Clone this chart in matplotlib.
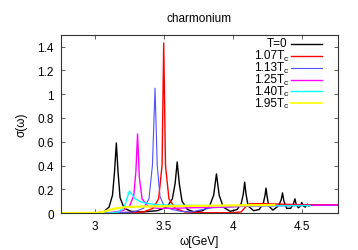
import matplotlib
matplotlib.use("Agg")
import matplotlib.pyplot as plt

plt.rcParams['font.family'] = ['Liberation Sans', 'DejaVu Sans']

# spectral functions
x_t0 = [2.75, 3.00, 3.06, 3.10, 3.125, 3.14, 3.153, 3.165, 3.18, 3.21, 3.26, 3.35, 3.45,
        3.52, 3.56, 3.58, 3.595, 3.61, 3.63, 3.67, 3.72, 3.78, 3.83, 3.86, 3.88, 3.90,
        3.93, 3.98, 4.03, 4.06, 4.075, 4.085, 4.095, 4.11, 4.15, 4.19, 4.22, 4.233, 4.24,
        4.248, 4.26, 4.29, 4.33, 4.35, 4.36, 4.37, 4.39, 4.42, 4.44, 4.45, 4.46, 4.475,
        4.49, 4.50, 4.51, 4.525, 4.54, 4.55, 4.57, 4.60]
y_t0 = [0.0, 0.0, 0.01, 0.05, 0.15, 0.35, 0.59, 0.35, 0.13, 0.04, 0.015, 0.01, 0.02,
        0.05, 0.12, 0.25, 0.43, 0.25, 0.10, 0.03, 0.01, 0.02, 0.06, 0.15, 0.33, 0.15,
        0.05, 0.015, 0.03, 0.08, 0.16, 0.26, 0.16, 0.06, 0.02, 0.03, 0.08, 0.15, 0.21,
        0.14, 0.06, 0.025, 0.06, 0.11, 0.17, 0.10, 0.04, 0.04, 0.08, 0.12, 0.07, 0.045,
        0.06, 0.09, 0.06, 0.05, 0.075, 0.06, 0.07, 0.066]

x_107 = [2.75, 3.20, 3.35, 3.42, 3.46, 3.485, 3.497, 3.51, 3.535, 3.58, 3.65, 3.80, 4.00,
         4.06, 4.09, 4.12, 4.20, 4.35, 4.50, 4.76]
y_107 = [0.0, 0.003, 0.01, 0.04, 0.12, 0.40, 1.43, 0.40, 0.12, 0.04, 0.01, 0.003, 0.003,
         0.01, 0.05, 0.078, 0.08, 0.075, 0.07, 0.07]

x_113 = [2.75, 3.15, 3.28, 3.35, 3.39, 3.415, 3.434, 3.45, 3.47, 3.50, 3.56, 3.62, 3.70,
         3.78, 3.85, 3.95, 4.05, 4.20, 4.40, 4.76]
y_113 = [0.0, 0.003, 0.01, 0.04, 0.12, 0.40, 1.05, 0.40, 0.14, 0.06, 0.03, 0.015, 0.01,
         0.03, 0.045, 0.05, 0.055, 0.06, 0.063, 0.065]

x_125 = [2.75, 3.10, 3.20, 3.25, 3.28, 3.295, 3.307, 3.32, 3.34, 3.38, 3.45, 3.55, 3.70,
         3.90, 4.10, 4.30, 4.50, 4.76]
y_125 = [0.0, 0.003, 0.02, 0.06, 0.15, 0.35, 0.665, 0.30, 0.12, 0.06, 0.04, 0.04, 0.045,
         0.05, 0.058, 0.062, 0.065, 0.068]

x_140 = [2.75, 3.10, 3.17, 3.21, 3.235, 3.248, 3.265, 3.29, 3.33, 3.38, 3.45, 3.60, 4.00,
         4.30, 4.56]
y_140 = [0.0, 0.0, 0.01, 0.05, 0.14, 0.185, 0.16, 0.12, 0.095, 0.08, 0.07, 0.065, 0.063,
         0.062, 0.063]

x_195 = [2.75, 3.00, 3.05, 3.10, 3.15, 3.20, 3.30, 3.50, 3.80, 4.10, 4.30]
y_195 = [0.0, 0.002, 0.008, 0.025, 0.04, 0.048, 0.054, 0.058, 0.062, 0.066, 0.068]

# key labels: main part and subscript
label_main = ['T=0', '1.07T', '1.13T', '1.25T', '1.40T', '1.95T']
label_sub = ['', 'c', 'c', 'c', 'c', 'c']
colors = ['black', 'red', '#5050ff', 'magenta', 'cyan', 'yellow']
widths = [1.0, 1.0, 0.8, 1.0, 1.0, 1.6]

xticks = [3, 3.5, 4, 4.5]
xtick_labels = ['3', '3.5', '4', '4.5']
yticks = [0, 0.2, 0.4, 0.6, 0.8, 1, 1.2, 1.4]
ytick_labels = ['0', '0.2', '0.4', '0.6', '0.8', '1', '1.2', '1.4']

fs = 8.5
fig = plt.figure(figsize=(3.58, 2.51), dpi=100)
ax = fig.add_axes([0.170, 0.147, 0.773, 0.711])

series = [(x_t0, y_t0), (x_107, y_107), (x_113, y_113), (x_125, y_125),
          (x_140, y_140), (x_195, y_195)]
for (xs, ys), c, lw in zip(series, colors, widths):
    ax.plot(xs, ys, color=c, lw=lw)

ax.set_xlim(2.75, 4.76)
ax.set_ylim(0, 1.5)
ax.set_xticks(xticks)
ax.set_xticklabels(xtick_labels)
ax.set_yticks(yticks)
ax.set_yticklabels(ytick_labels)
ax.tick_params(direction='in', length=3, width=0.6, labelsize=fs, top=True, right=True,
               color='#444444', pad=5)
for s in ax.spines.values():
    s.set_linewidth(0.8)
    s.set_color('#333333')

ax.set_title('charmonium', fontsize=fs, pad=10)
ax.set_xlabel('ω[GeV]', fontsize=fs, labelpad=2)
ax.set_ylabel('σ(ω)', fontsize=fs, labelpad=7)

# gnuplot style key: right-aligned text, sample line on the right
key_y = [0.951, 0.886, 0.819, 0.752, 0.686, 0.619]
for m, sub, c, lw, ky in zip(label_main, label_sub, colors, widths, key_y):
    if sub:
        ax.text(0.820, ky - 0.018, sub, transform=ax.transAxes, ha='right',
                va='center', fontsize=6)
        ax.text(0.806, ky, m, transform=ax.transAxes, ha='right', va='center', fontsize=fs)
    else:
        ax.text(0.820, ky, m, transform=ax.transAxes, ha='right', va='center', fontsize=fs)
    ax.plot([0.831, 0.945], [ky - 0.004, ky - 0.004], transform=ax.transAxes,
            color=c, lw=min(lw, 1.2))

fig.savefig('out.png', dpi=100)
